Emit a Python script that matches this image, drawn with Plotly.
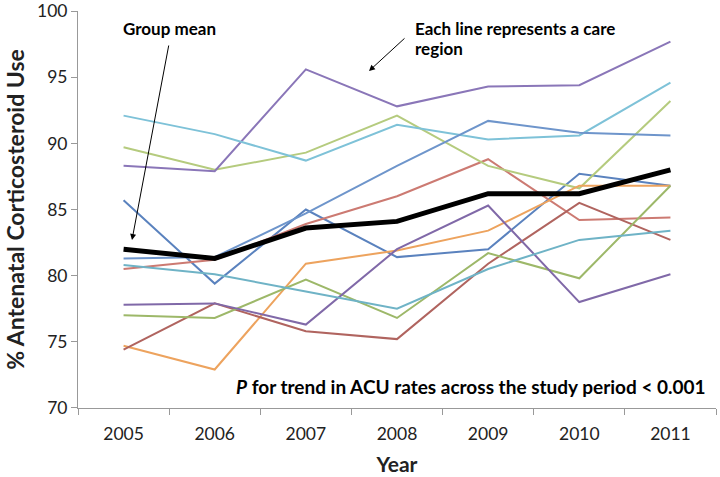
import plotly.graph_objects as go

years = ["2005", "2006", "2007", "2008", "2009", "2010", "2011"]

region_a = [85.7, 79.4, 85.0, 81.4, 82.0, 87.7, 86.8]   # blue
region_b = [80.5, 81.2, 83.9, 86.0, 88.8, 84.2, 84.4]   # red
region_c = [89.7, 88.0, 89.3, 92.1, 88.3, 86.6, 93.2]   # light green
region_d = [88.3, 87.9, 95.6, 92.8, 94.3, 94.4, 97.7]   # purple
region_e = [92.1, 90.7, 88.7, 91.4, 90.3, 90.6, 94.6]   # aqua
region_f = [74.7, 72.9, 80.9, 81.9, 83.4, 86.8, 86.8]   # orange
region_g = [81.3, 81.4, 84.7, 88.3, 91.7, 90.8, 90.6]   # blue 2
region_h = [74.4, 77.9, 75.8, 75.2, 80.9, 85.5, 82.7]   # dark red
region_i = [77.0, 76.8, 79.7, 76.8, 81.7, 79.8, 86.8]   # olive green
region_j = [77.8, 77.9, 76.3, 82.0, 85.3, 78.0, 80.1]   # purple 2
region_k = [80.8, 80.1, 78.8, 77.5, 80.5, 82.7, 83.4]   # aqua 2
group_mean = [82.0, 81.3, 83.6, 84.1, 86.2, 86.2, 88.0]

regions = [region_a, region_b, region_c, region_d, region_e, region_f,
           region_g, region_h, region_i, region_j, region_k]
colors = ["#5A82BE", "#CC7A72", "#B5CB7E", "#8A76B8", "#7EC2D8", "#EDA35E",
          "#6E95CB", "#B0645F", "#9DB869", "#8069A8", "#6FB3C6"]

font_family = "Lato, 'Open Sans', Arial, sans-serif"

# plot-area geometry (pixels)
L, R, T, B = 78, 4, 11, 69
W = 720 - L - R
H = 477 - T - B

fig = go.Figure()
for vals, col in zip(regions, colors):
    fig.add_trace(go.Scatter(x=years, y=vals, mode="lines",
                             line=dict(color=col, width=2), showlegend=False,
                             hoverinfo="skip"))
fig.add_trace(go.Scatter(x=years, y=group_mean, mode="lines",
                         line=dict(color="#000000", width=5), showlegend=False))

fig.update_layout(
    width=720, height=477,
    margin=dict(l=L, r=R, t=T, b=B),
    paper_bgcolor="white", plot_bgcolor="white",
    font=dict(family=font_family, size=15, color="#222"),
    xaxis=dict(type="category", tickson="boundaries", ticks="outside",
               ticklen=6, tickcolor="#999", showline=True, linecolor="#999",
               linewidth=1, showgrid=False, range=[-0.5, 6.5], automargin=False,
               ticklabelstandoff=10,
               tickfont=dict(size=17.5, color="#222"),
               title=dict(text="<b>Year</b>", font=dict(size=21, color="#222"),
                          standoff=14)),
    yaxis=dict(range=[69.99, 100.01], tickvals=[70, 75, 80, 85, 90, 95, 100],
               ticks="outside", ticklen=6, automargin=False,
               ticklabeloverflow="allow",
               tickcolor="#999", showline=True, linecolor="#999", linewidth=1,
               showgrid=False, zeroline=False,
               tickfont=dict(size=17.5, color="#222"),
               title=dict(text="<b>% Antenatal Corticosteroid Use</b>",
                          font=dict(size=23, color="#222"), standoff=5)),
)


def px_x(p):
    return (p - L) / W


def px_y(p):
    return 1 - (p - T) / H


# Group mean arrow
fig.add_annotation(xref="paper", yref="paper", x=px_x(132), y=px_y(240),
                   ax=169 - 132, ay=44 - 240, axref="pixel", ayref="pixel",
                   text="", showarrow=True, arrowhead=2, arrowsize=1.2,
                   arrowwidth=1, arrowcolor="#000")
fig.add_annotation(xref="paper", yref="paper", x=px_x(169), y=px_y(29),
                   xanchor="center", yanchor="middle",
                   text="<b>Group mean</b>", showarrow=False,
                   font=dict(size=17, color="#000"))
fig.add_annotation(xref="paper", yref="paper", x=px_x(413), y=px_y(29),
                   xanchor="left", yanchor="middle",
                   text="<b>Each line represents a care</b>", showarrow=False,
                   font=dict(size=17, color="#000"))
fig.add_annotation(xref="paper", yref="paper", x=px_x(413), y=px_y(48),
                   xanchor="left", yanchor="middle",
                   text="<b>region</b>", showarrow=False,
                   font=dict(size=17, color="#000"))
fig.add_annotation(xref="paper", yref="paper", x=px_x(369), y=px_y(71),
                   ax=406 - 369, ay=37 - 71, axref="pixel", ayref="pixel",
                   text="", showarrow=True, arrowhead=2, arrowsize=1.2,
                   arrowwidth=1, arrowcolor="#000")
fig.add_annotation(xref="paper", yref="paper", x=px_x(708), y=px_y(386),
                   xanchor="right", yanchor="middle",
                   text="<b><i>P</i> for trend in ACU rates across the study period &lt; 0.001</b>",
                   showarrow=False, font=dict(size=19, color="#000"))

fig.write_html("out.html", config={"displayModeBar": False},
               post_script="document.body.style.margin='0';document.body.style.padding='0';")
